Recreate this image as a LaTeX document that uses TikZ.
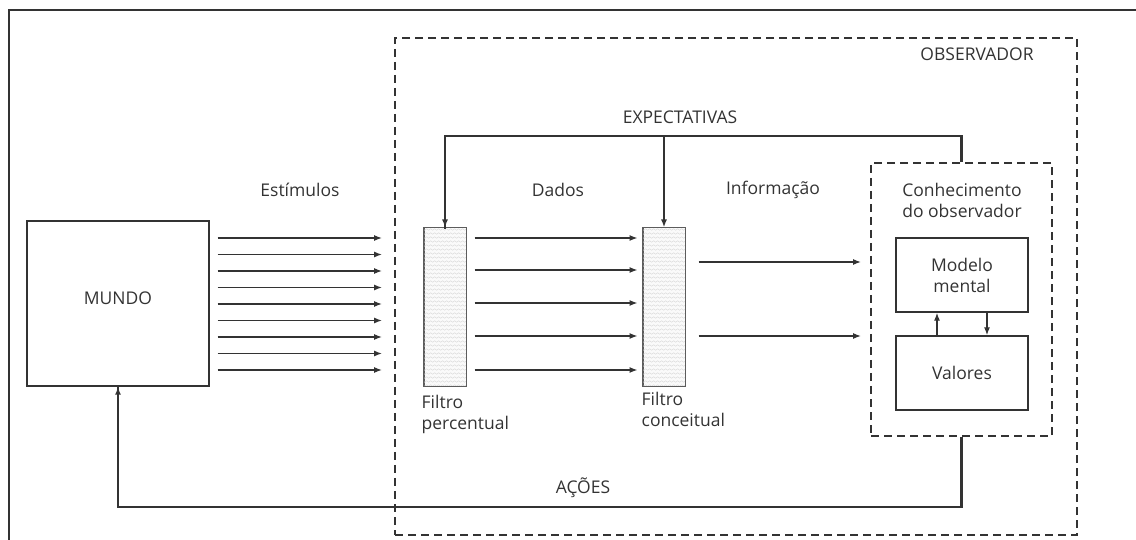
\documentclass[tikz,border=0pt]{standalone}
\usepackage{fontspec}
\setmainfont{Open Sans}
\usetikzlibrary{arrows.meta,calc,decorations.pathmorphing}

\definecolor{ink}{HTML}{333333}

\tikzset{
	txt/.style={font=\fontsize{17.5}{21}\selectfont, text=ink, inner sep=0pt, align=center},
	box/.style={draw=ink, line width=1.4pt, inner sep=0pt},
	dashbox/.style={draw=ink, line width=1.8pt, dash pattern=on 8pt off 5pt, inner sep=0pt},
	filtro/.style={draw=ink!80, line width=1pt, fill=gray!4, minimum width=42pt, minimum height=158pt, inner sep=0pt},
	arr/.style={draw=ink, line width=1.3pt, -{Latex[length=8pt,width=6pt]}},
	mainline/.style={draw=ink, line width=2.2pt},
	wave/.style={draw=gray!30, line width=0.4pt, decorate, decoration={snake, amplitude=0.8pt, segment length=4pt}}
}

\begin{document}
\begin{tikzpicture}[x=1pt, y=-1pt]
				\useasboundingbox (0,0) rectangle (1136,540);
				
				% moldura
				\draw[ink, line width=1.3pt] (9,540) -- (9,10) -- (1136,10);
				
				% caixas
				\node[box, minimum width=182pt, minimum height=165pt] (mundo) at (118,303.5) {};
				\node[txt] at (118,298) {MUNDO};
				\node[dashbox, minimum width=682pt, minimum height=497pt] (obs) at (736,286.5) {};
				\node[txt] at (977,54) {OBSERVADOR};
				\node[filtro] (f1) at (445,307) {};
				\node[filtro] (f2) at (664,307) {};
				\node[dashbox, minimum width=181pt, minimum height=273pt] (kb) at (961.5,299.5) {};
				\node[box, minimum width=132pt, minimum height=74pt] (mod) at (962,275) {};
				\node[box, minimum width=132pt, minimum height=74pt] (val) at (962,373) {};
				
				% textura dos filtros
				\foreach \f in {f1,f2}{
					\begin{scope}
						\clip (\f.north west) rectangle (\f.south east);
						\foreach \k in {0,...,40}
							\draw[wave] ($(\f.north west)+(-2,\k*4+2)$) -- ++(48,0);
					\end{scope}
					\draw[ink!80, line width=1pt] (\f.north west) rectangle (\f.south east);
				}
				
				% textos
				\node[txt] at (962,200) {Conhecimento\\do observador};
				\node[txt] at (962,275) {Modelo\\mental};
				\node[txt] at (962,373) {Valores};
				\node[txt] at (300,190) {Estímulos};
				\node[txt] at (558,190) {Dados};
				\node[txt] at (773,190) {Informação};
				\node[txt] at (680,117) {EXPECTATIVAS};
				\node[txt] at (583,488) {AÇÕES};
				\node[txt, anchor=north west, align=left] at ([xshift=-2,yshift=-9]f1.south west) {Filtro\\percentual};
				\node[txt, anchor=north west, align=left] at ([xshift=-1,yshift=-6]f2.south west) {Filtro\\conceitual};
				
				% estimulos
				\foreach \y in {238,254.5,271,287.5,304,320.5,337,353.5,370}
					\draw[arr] ([xshift=8]mundo.east |- 0,\y) -- ([xshift=-12]obs.west |- 0,\y);
				
				% dados
				\foreach \y in {238,270,303,336,370}
					\draw[arr] ([xshift=8]f1.east |- 0,\y) -- ([xshift=-5]f2.west |- 0,\y);
				
				% informacao
				\foreach \y in {262,336}
					\draw[arr] ([xshift=13]f2.east |- 0,\y) -- ([xshift=-9]kb.west |- 0,\y);
				
				% modelo e valores
				\draw[arr] ([xshift=-25]val.north) -- ([xshift=-25]mod.south);
				\draw[arr] ([xshift=25]mod.south) -- ([xshift=25]val.north);
				
				% expectativas
				\draw[mainline] (kb.north) -- ++(0,-26) coordinate (e1) -| ([yshift=-2]f1.north);
				\draw[arr, line width=2.2pt] (f1.north |- e1) -- (f1.north);
				\draw[arr, line width=2.2pt] (f2.north |- e1) -- (f2.north);
				
				% acoes
				\draw[mainline] (kb.south) -- ++(0,70) coordinate (a1) -| ([yshift=2]mundo.south);
				\draw[arr, line width=2.2pt] (mundo.south |- a1) -- (mundo.south);
			\end{tikzpicture}
\end{document}
